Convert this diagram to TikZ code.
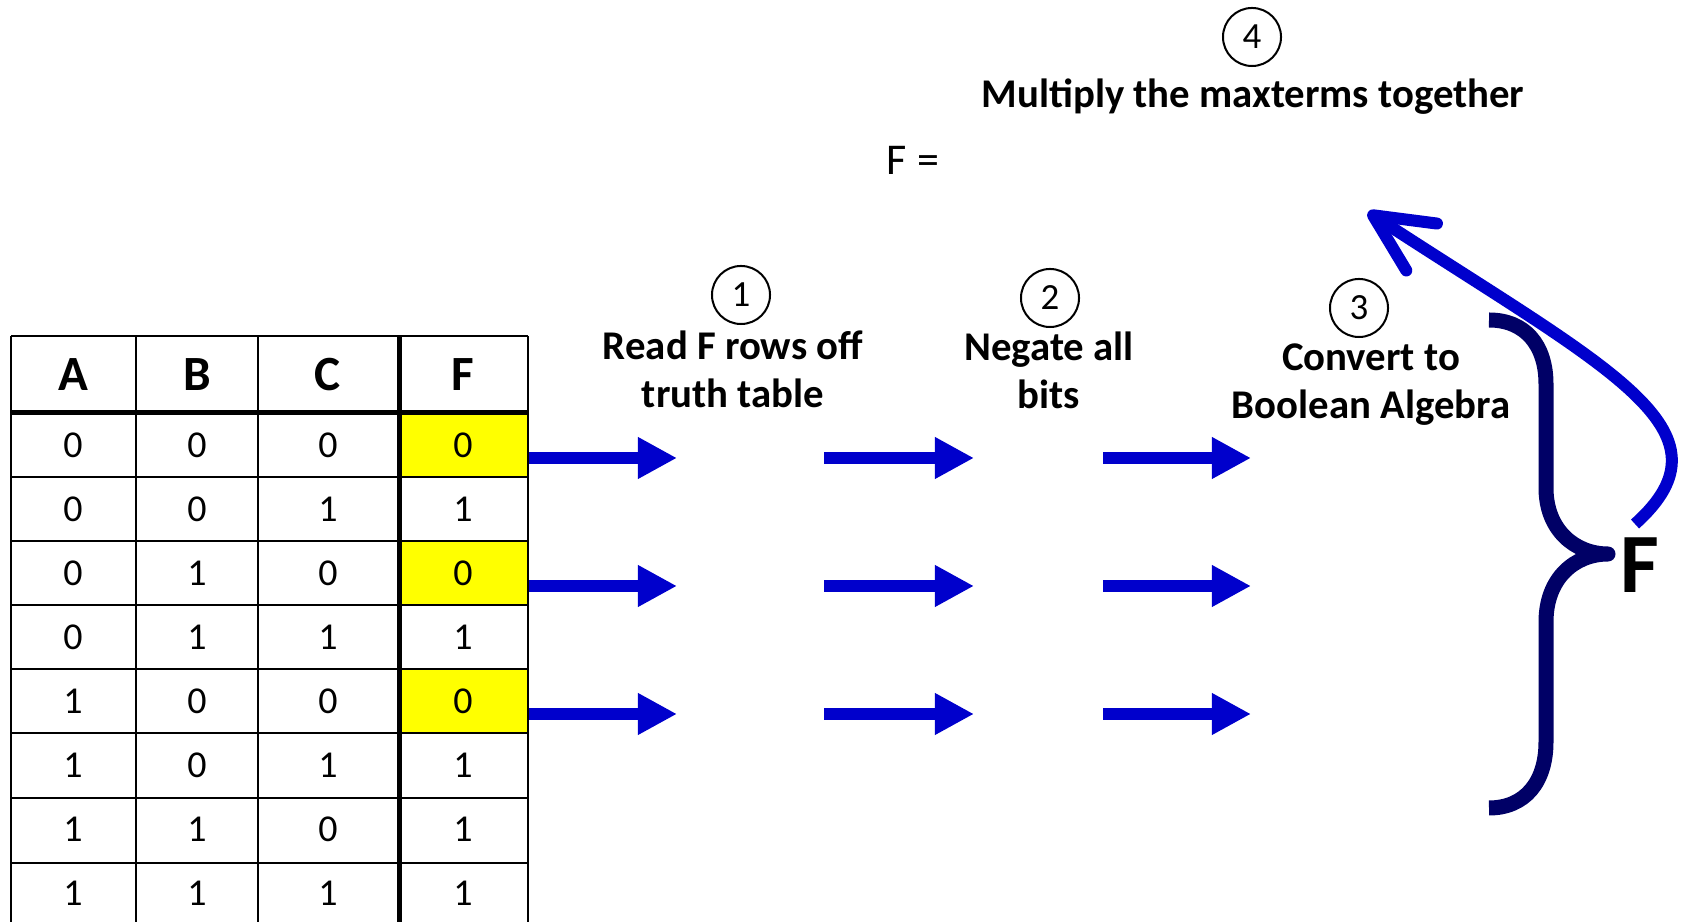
\documentclass[tikz,border=0pt]{standalone}
\usepackage{fontspec}
\setmainfont{Carlito}
\usetikzlibrary{arrows.meta}
\definecolor{arrowblue}{HTML}{0000CC}
\definecolor{bracenavy}{HTML}{000066}
\definecolor{cellyellow}{HTML}{FFFF00}
\tikzset{
    steptext/.style={font=\fontsize{11.6}{13.7}\selectfont\bfseries, align=center, anchor=base, inner sep=0pt},
    stepnum/.style={circle, draw, line width=0.02cm, minimum size=0.58cm, inner sep=0pt, font=\fontsize{10.5}{12}\selectfont},
    flowarrow/.style={arrowblue, line width=0.12cm, -{Triangle[length=0.39cm,width=0.39cm]}},
    gridline/.style={line width=0.02cm},
    gridthick/.style={line width=0.05cm}
}
\begin{document}
\begin{tikzpicture}[x=0.01cm, y=-0.01cm]
                \useasboundingbox (0,0) rectangle (1687,922);

                \foreach \r in {1,3,5}
                    \fill[cellyellow] (399,349+64*\r) rectangle (528,413+64*\r);

                \foreach \x in {11,136,258,528}
                    \draw[gridline] (\x,336) -- (\x,922);
                \foreach \y in {336,477,541,605,669,733,798,863}
                    \draw[gridline] (11,\y) -- (528,\y);
                \draw[gridthick] (399,336) -- (399,922);
                \draw[gridthick] (11,413) -- (528,413);

                \begin{scope}[every node/.style={font=\fontsize{14}{16}\selectfont\bfseries, inner sep=0pt}]
                    \node (hA) at (73,375) {A};
                    \node (hB) at (197,375) {B};
                    \node (hC) at (328,375) {C};
                    \node (hF) at (463,375) {F};
                \end{scope}

                \begin{scope}[every node/.style={font=\fontsize{10.8}{12}\selectfont, inner sep=0pt}]
                    \foreach \a/\b/\c/\f [count=\r, evaluate=\r as \y using 381+64*\r] in
                        {0/0/0/0, 0/0/1/1, 0/1/0/0, 0/1/1/1, 1/0/0/0, 1/0/1/1, 1/1/0/1, 1/1/1/1} {
                        \node (a\r) at (73,\y) {\a};
                        \node (b\r) at (197,\y) {\b};
                        \node (c\r) at (328,\y) {\c};
                        \node (f\r) at (463,\y) {\f};
                    }
                \end{scope}

                \foreach \y [count=\i] in {458,586,714} {
                    \coordinate (s1\i) at (529,\y);
                    \coordinate (e1\i) at (677,\y);
                    \coordinate (s2\i) at (824,\y);
                    \coordinate (e2\i) at (974,\y);
                    \coordinate (s3\i) at (1103,\y);
                    \coordinate (e3\i) at (1251,\y);
                    \draw[flowarrow] (s1\i) -- (e1\i);
                    \draw[flowarrow] (s2\i) -- (e2\i);
                    \draw[flowarrow] (s3\i) -- (e3\i);
                }

                \node[stepnum] (n1) at (741,295) {1};
                \node[stepnum] (n2) at (1050,298) {2};
                \node[stepnum] (n3) at (1359,308) {3};
                \node[stepnum] (n4) at (1252,37) {4};

                \node[steptext] (read) at (733,408) {Read F rows off\\truth table};
                \node[steptext] (negate) at (1049,409) {Negate all\\bits};
                \node[steptext] (convert) at (1371,419) {Convert to\\Boolean Algebra};
                \node[steptext] (multiply) at (1253,108) {Multiply the maxterms together};
                \node[font=\fontsize{12.5}{14}\selectfont, anchor=base, inner sep=0pt] (feq) at (913,175) {F =};

                \draw[bracenavy, line width=0.15cm, line join=round]
                    (1489,320) .. controls (1525,320) and (1546,345) .. (1546,384) -- (1546,488)
                    .. controls (1546,530) and (1575,554) .. (1608,554)
                    .. controls (1575,554) and (1546,578) .. (1546,622) -- (1546,742)
                    .. controls (1546,782) and (1525,808) .. (1489,808);
                \node[font=\fontsize{24}{28}\selectfont\bfseries, anchor=base, inner sep=0pt] (bigF) at (1640,593) {F};

                \coordinate (loopstart) at (1635,524);
                \coordinate (looptip) at (1368,212);
                \draw[arrowblue, line width=0.12cm, -{Straight Barb[length=0.58cm,width=0.56cm,round]}]
                    (loopstart) .. controls (1740,430) and (1610,370) .. (looptip);
            \end{tikzpicture}
\end{document}
